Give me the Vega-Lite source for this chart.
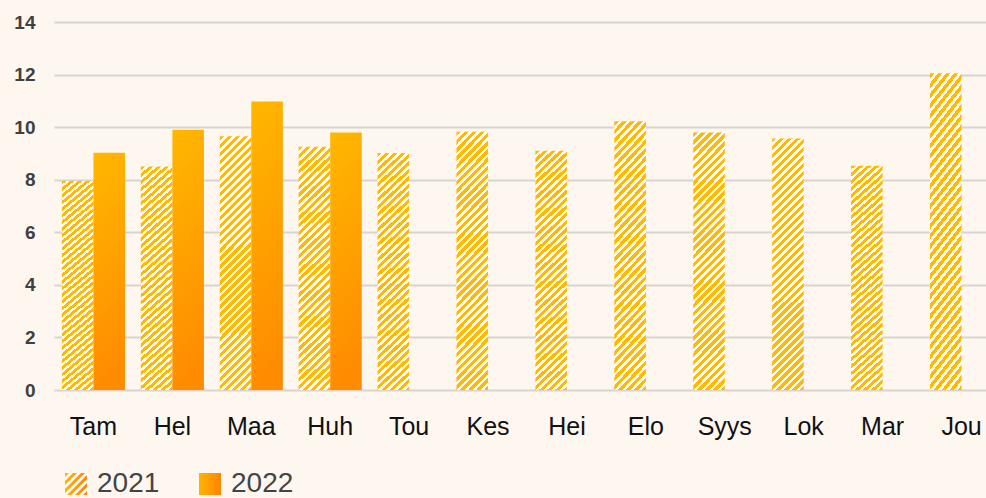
{
  "$schema": "https://vega.github.io/schema/vega-lite/v6.json",
  "autosize": {"type": "none"},
  "padding": {"left": 54, "top": 22, "right": 0, "bottom": 108},
  "width": 932,
  "height": 368,
  "background": "#FDF7F0",
  "config": {"view": {"stroke": null}},
  "data": {
    "values": [
      {"month": "Tam", "year": "2021", "value": 7.95},
      {"month": "Hel", "year": "2021", "value": 8.5},
      {"month": "Maa", "year": "2021", "value": 9.65},
      {"month": "Huh", "year": "2021", "value": 9.25},
      {"month": "Tou", "year": "2021", "value": 9.02},
      {"month": "Kes", "year": "2021", "value": 9.82},
      {"month": "Hei", "year": "2021", "value": 9.1},
      {"month": "Elo", "year": "2021", "value": 10.22},
      {"month": "Syys", "year": "2021", "value": 9.8},
      {"month": "Lok", "year": "2021", "value": 9.57},
      {"month": "Mar", "year": "2021", "value": 8.53},
      {"month": "Jou", "year": "2021", "value": 12.05},
      {"month": "Tam", "year": "2022", "value": 9.03},
      {"month": "Hel", "year": "2022", "value": 9.9},
      {"month": "Maa", "year": "2022", "value": 10.98},
      {"month": "Huh", "year": "2022", "value": 9.8}
    ]
  },
  "encoding": {
    "x": {
      "field": "month",
      "type": "nominal",
      "sort": ["Tam", "Hel", "Maa", "Huh", "Tou", "Kes", "Hei", "Elo", "Syys", "Lok", "Mar", "Jou"],
      "scale": {"range": [0, 947], "paddingInner": 0.2, "paddingOuter": 0.1},
      "axis": {
        "title": null, "labelAngle": 0, "domain": false, "ticks": false,
        "labelFont": "Liberation Sans", "labelFontSize": 25, "labelColor": "#111111",
        "labelPadding": 24
      }
    },
    "xOffset": {"field": "year", "type": "nominal", "scale": {"domain": ["2021", "2022"], "paddingInner": 0}},
    "y": {
      "field": "value",
      "type": "quantitative",
      "scale": {"domain": [0, 14], "nice": false},
      "axis": {
        "title": null, "values": [0, 2, 4, 6, 8, 10, 12, 14], "domain": false, "ticks": false,
        "gridColor": "#D9D4CE", "gridWidth": 2,
        "labelFont": "Liberation Sans", "labelFontWeight": "bold", "labelFontSize": 19,
        "labelColor": "#404040", "labelPadding": 19
      }
    }
  },
  "layer": [
    {
      "transform": [{"filter": "datum.year === '2021'"}],
      "mark": {
        "type": "bar",
        "strokeWidth": 0,
        "fill": {"gradient": "linear", "x1": 0, "y1": 0, "x2": 1, "y2": 8, "stops": [
          {"offset": 0, "color": "#FFBA00"}, {"offset": 0.00215, "color": "#FFBA00"},
          {"offset": 0.00215, "color": "#FFFAF3"}, {"offset": 0.0039, "color": "#FFFAF3"},
          {"offset": 0.0039, "color": "#FFBA00"}, {"offset": 0.00605, "color": "#FFBA00"},
          {"offset": 0.00605, "color": "#FFFAF3"}, {"offset": 0.0078, "color": "#FFFAF3"},
          {"offset": 0.0078, "color": "#FFBA00"}, {"offset": 0.00995, "color": "#FFBA00"},
          {"offset": 0.00995, "color": "#FFFAF3"}, {"offset": 0.0117, "color": "#FFFAF3"},
          {"offset": 0.0117, "color": "#FFBA00"}, {"offset": 0.01385, "color": "#FFBA00"},
          {"offset": 0.01385, "color": "#FFFAF3"}, {"offset": 0.0156, "color": "#FFFAF3"},
          {"offset": 0.0156, "color": "#FFBA00"}, {"offset": 0.01775, "color": "#FFBA00"},
          {"offset": 0.01775, "color": "#FFFAF3"}, {"offset": 0.0195, "color": "#FFFAF3"},
          {"offset": 0.0195, "color": "#FFBA00"}, {"offset": 0.02165, "color": "#FFBA00"},
          {"offset": 0.02165, "color": "#FFFAF3"}, {"offset": 0.0234, "color": "#FFFAF3"},
          {"offset": 0.0234, "color": "#FFBA00"}, {"offset": 0.02555, "color": "#FFBA00"},
          {"offset": 0.02555, "color": "#FFFAF3"}, {"offset": 0.0273, "color": "#FFFAF3"},
          {"offset": 0.0273, "color": "#FFBA00"}, {"offset": 0.02945, "color": "#FFBA00"},
          {"offset": 0.02945, "color": "#FFFAF3"}, {"offset": 0.0312, "color": "#FFFAF3"},
          {"offset": 0.0312, "color": "#FFBA00"}, {"offset": 0.03335, "color": "#FFBA00"},
          {"offset": 0.03335, "color": "#FFFAF3"}, {"offset": 0.0351, "color": "#FFFAF3"},
          {"offset": 0.0351, "color": "#FFBA00"}, {"offset": 0.03725, "color": "#FFBA00"},
          {"offset": 0.03725, "color": "#FFFAF3"}, {"offset": 0.039, "color": "#FFFAF3"},
          {"offset": 0.039, "color": "#FFBA00"}, {"offset": 0.04115, "color": "#FFBA00"},
          {"offset": 0.04115, "color": "#FFFAF3"}, {"offset": 0.0429, "color": "#FFFAF3"},
          {"offset": 0.0429, "color": "#FFBA00"}, {"offset": 0.04505, "color": "#FFBA00"},
          {"offset": 0.04505, "color": "#FFFAF3"}, {"offset": 0.0468, "color": "#FFFAF3"},
          {"offset": 0.0468, "color": "#FFBA00"}, {"offset": 0.04895, "color": "#FFBA00"},
          {"offset": 0.04895, "color": "#FFFAF3"}, {"offset": 0.0507, "color": "#FFFAF3"},
          {"offset": 0.0507, "color": "#FFBA00"}, {"offset": 0.05285, "color": "#FFBA00"},
          {"offset": 0.05285, "color": "#FFFAF3"}, {"offset": 0.0546, "color": "#FFFAF3"},
          {"offset": 0.0546, "color": "#FFBA00"}, {"offset": 0.05675, "color": "#FFBA00"},
          {"offset": 0.05675, "color": "#FFFAF3"}, {"offset": 0.0585, "color": "#FFFAF3"},
          {"offset": 0.0585, "color": "#FFBA00"}, {"offset": 0.06065, "color": "#FFBA00"},
          {"offset": 0.06065, "color": "#FFFAF3"}, {"offset": 0.0624, "color": "#FFFAF3"},
          {"offset": 0.0624, "color": "#FFBA00"}, {"offset": 0.06455, "color": "#FFBA00"},
          {"offset": 0.06455, "color": "#FFFAF3"}, {"offset": 0.0663, "color": "#FFFAF3"},
          {"offset": 0.0663, "color": "#FFBA00"}, {"offset": 0.06845, "color": "#FFBA00"},
          {"offset": 0.06845, "color": "#FFFAF3"}, {"offset": 0.0702, "color": "#FFFAF3"},
          {"offset": 0.0702, "color": "#FFBA00"}, {"offset": 0.07235, "color": "#FFBA00"},
          {"offset": 0.07235, "color": "#FFFAF3"}, {"offset": 0.0741, "color": "#FFFAF3"},
          {"offset": 0.0741, "color": "#FFBA00"}, {"offset": 0.07625, "color": "#FFBA00"},
          {"offset": 0.07625, "color": "#FFFAF3"}, {"offset": 0.078, "color": "#FFFAF3"},
          {"offset": 0.078, "color": "#FFBA00"}, {"offset": 0.08015, "color": "#FFBA00"},
          {"offset": 0.08015, "color": "#FFFAF3"}, {"offset": 0.0819, "color": "#FFFAF3"},
          {"offset": 0.0819, "color": "#FFBA00"}, {"offset": 0.08405, "color": "#FFBA00"},
          {"offset": 0.08405, "color": "#FFFAF3"}, {"offset": 0.0858, "color": "#FFFAF3"},
          {"offset": 0.0858, "color": "#FFBA00"}, {"offset": 0.08795, "color": "#FFBA00"},
          {"offset": 0.08795, "color": "#FFFAF3"}, {"offset": 0.0897, "color": "#FFFAF3"},
          {"offset": 0.0897, "color": "#FFBA00"}, {"offset": 0.09185, "color": "#FFBA00"},
          {"offset": 0.09185, "color": "#FFFAF3"}, {"offset": 0.0936, "color": "#FFFAF3"},
          {"offset": 0.0936, "color": "#FFBA00"}, {"offset": 0.09575, "color": "#FFBA00"},
          {"offset": 0.09575, "color": "#FFFAF3"}, {"offset": 0.0975, "color": "#FFFAF3"},
          {"offset": 0.0975, "color": "#FFBA00"}, {"offset": 0.09965, "color": "#FFBA00"},
          {"offset": 0.09965, "color": "#FFFAF3"}, {"offset": 0.1014, "color": "#FFFAF3"},
          {"offset": 0.1014, "color": "#FFBA00"}, {"offset": 0.10355, "color": "#FFBA00"},
          {"offset": 0.10355, "color": "#FFFAF3"}, {"offset": 0.1053, "color": "#FFFAF3"},
          {"offset": 0.1053, "color": "#FFBA00"}, {"offset": 0.10745, "color": "#FFBA00"},
          {"offset": 0.10745, "color": "#FFFAF3"}, {"offset": 0.1092, "color": "#FFFAF3"},
          {"offset": 0.1092, "color": "#FFBA00"}, {"offset": 0.11135, "color": "#FFBA00"},
          {"offset": 0.11135, "color": "#FFFAF3"}, {"offset": 0.1131, "color": "#FFFAF3"},
          {"offset": 0.1131, "color": "#FFBA00"}, {"offset": 0.11525, "color": "#FFBA00"},
          {"offset": 0.11525, "color": "#FFFAF3"}, {"offset": 0.117, "color": "#FFFAF3"},
          {"offset": 0.117, "color": "#FFBA00"}, {"offset": 0.11915, "color": "#FFBA00"},
          {"offset": 0.11915, "color": "#FFFAF3"}, {"offset": 0.1209, "color": "#FFFAF3"},
          {"offset": 0.1209, "color": "#FFBA00"}, {"offset": 0.12305, "color": "#FFBA00"},
          {"offset": 0.12305, "color": "#FFFAF3"}, {"offset": 0.1248, "color": "#FFFAF3"},
          {"offset": 0.1248, "color": "#FFBA00"}, {"offset": 0.12695, "color": "#FFBA00"},
          {"offset": 0.12695, "color": "#FFFAF3"}, {"offset": 0.1287, "color": "#FFFAF3"},
          {"offset": 0.1287, "color": "#FFBA00"}, {"offset": 0.13085, "color": "#FFBA00"},
          {"offset": 0.13085, "color": "#FFFAF3"}, {"offset": 0.1326, "color": "#FFFAF3"},
          {"offset": 0.1326, "color": "#FFBA00"}, {"offset": 0.13475, "color": "#FFBA00"},
          {"offset": 0.13475, "color": "#FFFAF3"}, {"offset": 0.1365, "color": "#FFFAF3"},
          {"offset": 0.1365, "color": "#FFBA00"}, {"offset": 0.13865, "color": "#FFBA00"},
          {"offset": 0.13865, "color": "#FFFAF3"}, {"offset": 0.1404, "color": "#FFFAF3"}
        ]}
      }
    },
    {
      "transform": [{"filter": "datum.year === '2022'"}],
      "mark": {
        "type": "bar",
        "strokeWidth": 0,
        "fill": {"gradient": "linear", "x1": 0, "y1": 0, "x2": 0.15, "y2": 1, "stops": [
          {"offset": 0, "color": "#FFB800"},
          {"offset": 1, "color": "#FF8C00"}
        ]}
      }
    },
    {
      "mark": {
        "type": "point",
        "filled": true,
        "size": 0,
        "opacity": 1,
        "strokeWidth": 0,
        "fill": {"gradient": "linear", "x1": 0, "y1": 0, "x2": 1, "y2": 0, "stops": [
          {"offset": 0, "color": "#FFB400"},
          {"offset": 1, "color": "#FF8400"}
        ]}
      },
      "encoding": {
        "shape": {
          "field": "year",
          "type": "nominal",
          "scale": {
            "domain": ["2021", "2022"],
            "range": [
              "M-1,-1L-0.64,-1L-1,-0.64Z M-1,-0.27L-0.27,-1L0.09,-1L-1,0.09Z M-1,0.45L0.45,-1L0.82,-1L-1,0.82Z M-0.82,1L1,-0.82L1,-0.45L-0.45,1Z M-0.09,1L1,-0.09L1,0.27L0.27,1Z M0.64,1L1,0.64L1,1Z",
              "square"
            ]
          },
          "legend": {
            "orient": "none", "legendX": 8, "legendY": 448, "direction": "horizontal",
            "title": null, "symbolSize": 484, "symbolStrokeWidth": 0, "symbolOpacity": 1,
            "labelFont": "Liberation Sans", "labelFontSize": 28, "labelColor": "#444444",
            "labelOffset": 7, "columnPadding": 36, "padding": 0
          }
        }
      }
    }
  ]
}
